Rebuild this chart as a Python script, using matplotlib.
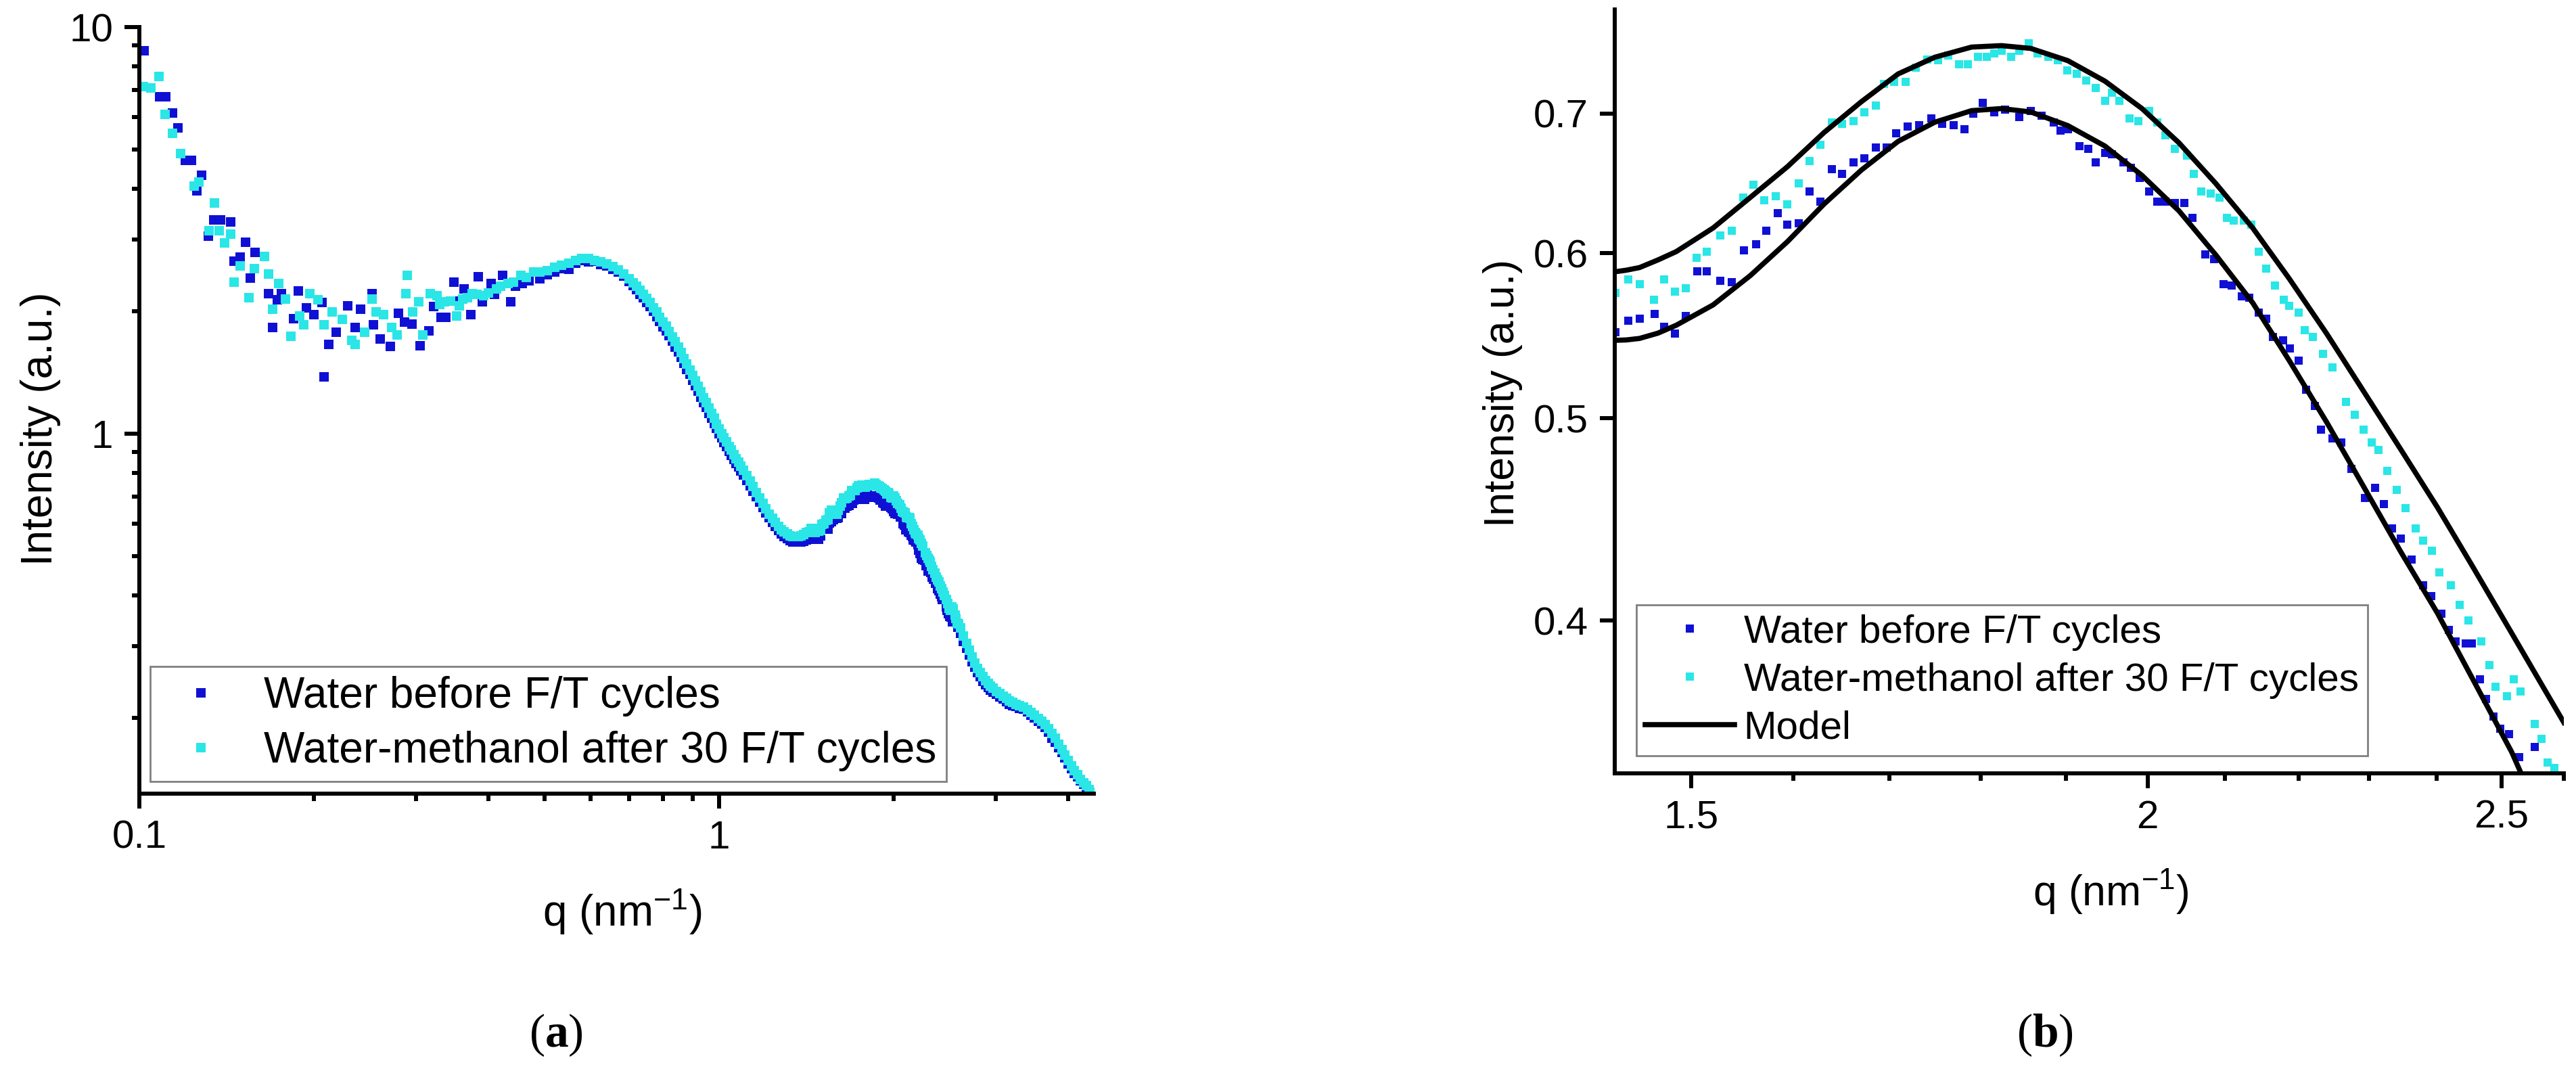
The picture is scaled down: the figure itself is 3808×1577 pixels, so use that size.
import numpy as np
import matplotlib
matplotlib.use("Agg")
from matplotlib import pyplot as plt
from matplotlib.ticker import FixedLocator, FixedFormatter, LogLocator, NullFormatter, NullLocator

plt.rcParams['font.family'] = ['Liberation Sans', 'DejaVu Sans']
plt.rcParams['mathtext.fontset'] = 'custom'
plt.rcParams['mathtext.rm'] = 'Liberation Sans'
plt.rcParams['mathtext.it'] = 'Liberation Sans:italic'
plt.rcParams['mathtext.bf'] = 'Liberation Serif:bold'

BLUE = '#1010d4'
CYAN = '#2ae6e6'

label_water = "Water before F/T cycles"
label_meth = "Water-methanol after 30 F/T cycles"

# low q, scattered part
q_low_water = [0.1020, 0.1085, 0.1111, 0.1142, 0.1166, 0.1202, 0.1231, 0.1257, 0.1282, 0.1316,
               0.1343, 0.1381, 0.1436, 0.1455, 0.1492, 0.1524, 0.1552, 0.1585, 0.1671, 0.1697,
               0.1729, 0.1759, 0.1846, 0.1880, 0.1940, 0.2000, 0.2063, 0.2084, 0.2123, 0.2183,
               0.2287, 0.2359, 0.2407, 0.2521, 0.2534, 0.2600, 0.2710, 0.2795, 0.2866, 0.2950,
               0.3049, 0.3161, 0.3220, 0.3310, 0.3380, 0.3485, 0.3550, 0.3632, 0.3727, 0.3843,
               0.3903, 0.4046, 0.4100, 0.4237, 0.4370, 0.4450, 0.4576, 0.4700]
I_low_water = [8.74, 6.75, 6.75, 6.14, 5.65, 4.70, 4.70, 3.96, 4.32, 3.06,
               3.35, 3.35, 3.31, 2.65, 2.72, 2.96, 2.41, 2.79, 2.21, 1.825,
               2.13, 2.21, 1.92, 2.24, 2.04, 1.965, 2.10, 1.381, 1.66, 1.773,
               2.06, 1.825, 2.02, 2.21, 1.853, 1.709, 1.635, 1.979, 1.880, 1.86,
               1.647, 1.786, 2.05, 1.935, 1.935, 2.36, 2.12, 2.27, 1.965, 2.43,
               2.11, 2.34, 2.20, 2.45, 2.11, 2.30, 2.34, 2.38]

q_low_meth = [0.1015, 0.1047, 0.1081, 0.1108, 0.1142, 0.1178, 0.1244, 0.1266, 0.1319, 0.1346,
              0.1374, 0.1403, 0.1439, 0.1455, 0.1492, 0.1547, 0.1579, 0.1645, 0.1671, 0.1697,
              0.1741, 0.1786, 0.1824, 0.1890, 0.1919, 0.1970, 0.2032, 0.2084, 0.2149, 0.2239,
              0.2322, 0.2359, 0.2445, 0.2521, 0.2560, 0.2641, 0.2724, 0.2780, 0.2882, 0.2897,
              0.2957, 0.3034, 0.3082, 0.3178, 0.3261, 0.3300, 0.3362, 0.3440, 0.3521, 0.3560,
              0.3613, 0.3680, 0.3746, 0.3820, 0.3923, 0.4000, 0.4129, 0.4200, 0.4325, 0.4420,
              0.4551, 0.4650, 0.4795]
I_low_meth = [7.14, 7.07, 7.57, 6.09, 5.48, 4.88, 4.06, 4.15, 3.16, 3.69,
              3.16, 2.94, 3.09, 2.36, 2.58, 2.16, 2.55, 2.73, 2.47, 2.02,
              2.34, 2.14, 1.734, 1.95, 1.853, 2.21, 2.13, 1.853, 1.994, 1.907,
              1.696, 1.66, 1.773, 2.14, 1.994, 1.965, 1.825, 1.746, 2.21, 2.45,
              1.994, 2.11, 1.746, 2.21, 2.18, 2.08, 2.11, 2.12, 1.95, 2.06,
              2.14, 2.16, 2.21, 2.20, 2.18, 2.22, 2.27, 2.30, 2.34, 2.36,
              2.45, 2.42, 2.50]

# dense band between the low q part and the zoomed window
q_mid = [0.490, 0.505, 0.520, 0.535, 0.550, 0.565, 0.580, 0.595, 0.610, 0.625,
         0.640, 0.655, 0.670, 0.685, 0.700,
         0.71, 0.72, 0.73, 0.74, 0.75, 0.76, 0.77, 0.78, 0.79, 0.80,
         0.81, 0.82, 0.83, 0.84, 0.85, 0.86, 0.87, 0.88, 0.89, 0.90,
         0.91, 0.92, 0.93, 0.94, 0.95, 0.96, 0.97, 0.98, 0.99, 1.00,
         1.01, 1.02, 1.03, 1.04, 1.05, 1.06, 1.07, 1.08, 1.09, 1.10,
         1.115, 1.13, 1.145, 1.16, 1.175, 1.19, 1.205, 1.22, 1.235, 1.25,
         1.265, 1.28, 1.295, 1.31, 1.325, 1.34, 1.355, 1.37, 1.385, 1.40, 1.415]
I_mid_water = [2.40, 2.46, 2.50, 2.55, 2.54, 2.62, 2.66, 2.64, 2.65, 2.60,
               2.58, 2.54, 2.50, 2.44, 2.37,
               2.31, 2.26, 2.20, 2.16, 2.10, 2.05, 2.00, 1.94, 1.89, 1.83,
               1.79, 1.74, 1.69, 1.63, 1.59, 1.54, 1.49, 1.44, 1.40, 1.35,
               1.31, 1.27, 1.23, 1.19, 1.16, 1.12, 1.09, 1.06, 1.03, 1.00,
               0.975, 0.95, 0.93, 0.905, 0.885, 0.865, 0.845, 0.828, 0.81, 0.792,
               0.768, 0.745, 0.722, 0.70, 0.678, 0.657, 0.638, 0.620, 0.604, 0.590,
               0.577, 0.567, 0.558, 0.551, 0.546, 0.542, 0.540, 0.540, 0.541, 0.544, 0.547]
I_mid_meth = [2.50, 2.52, 2.56, 2.59, 2.62, 2.66, 2.70, 2.70, 2.67, 2.64,
              2.61, 2.57, 2.53, 2.47, 2.40,
              2.35, 2.30, 2.25, 2.20, 2.15, 2.10, 2.04, 1.99, 1.93, 1.88,
              1.835, 1.785, 1.73, 1.68, 1.632, 1.58, 1.53, 1.48, 1.435, 1.39,
              1.345, 1.305, 1.265, 1.225, 1.19, 1.155, 1.12, 1.09, 1.055, 1.025,
              1.00, 0.975, 0.955, 0.93, 0.91, 0.888, 0.868, 0.85, 0.83, 0.812,
              0.788, 0.763, 0.74, 0.716, 0.693, 0.672, 0.653, 0.634, 0.618, 0.604,
              0.591, 0.580, 0.572, 0.566, 0.561, 0.558, 0.557, 0.558, 0.561, 0.565, 0.570]

# zoomed window
q_zoom_water = [1.430, 1.442, 1.452, 1.466, 1.475, 1.485, 1.495, 1.506, 1.515, 1.528,
                1.539, 1.551, 1.563, 1.573, 1.584, 1.594, 1.605, 1.616, 1.627, 1.639,
                1.650, 1.662, 1.673, 1.685, 1.697, 1.707, 1.719, 1.732, 1.745, 1.757,
                1.770, 1.782, 1.792, 1.803, 1.816, 1.828, 1.845, 1.858, 1.871, 1.885,
                1.893, 1.902, 1.916, 1.927, 1.936, 1.947, 1.956, 1.970, 1.979, 1.990,
                2.002, 2.012, 2.023, 2.035, 2.047, 2.057, 2.074, 2.086, 2.098, 2.109,
                2.122, 2.132, 2.145, 2.155, 2.164, 2.178, 2.188, 2.200, 2.210, 2.222,
                2.231, 2.247, 2.260, 2.274, 2.294, 2.308, 2.321, 2.333, 2.346, 2.362,
                2.379, 2.392, 2.407, 2.418, 2.429, 2.444, 2.454, 2.466, 2.476, 2.487,
                2.498, 2.512, 2.528, 2.553, 2.580]
I_zoom_water = [0.550, 0.557, 0.558, 0.561, 0.553, 0.549, 0.560, 0.588, 0.588, 0.582,
                0.581, 0.602, 0.606, 0.615, 0.627, 0.619, 0.620, 0.642, 0.635, 0.658,
                0.655, 0.663, 0.666, 0.674, 0.674, 0.685, 0.690, 0.691, 0.696, 0.692,
                0.691, 0.688, 0.700, 0.708, 0.701, 0.703, 0.697, 0.702, 0.698, 0.693,
                0.687, 0.688, 0.675, 0.673, 0.663, 0.670, 0.669, 0.663, 0.659, 0.652,
                0.642, 0.635, 0.635, 0.634, 0.634, 0.624, 0.599, 0.596, 0.580, 0.579,
                0.572, 0.571, 0.562, 0.558, 0.547, 0.545, 0.540, 0.533, 0.516, 0.507,
                0.494, 0.489, 0.487, 0.473, 0.458, 0.463, 0.455, 0.443, 0.438, 0.428,
                0.416, 0.411, 0.403, 0.396, 0.391, 0.390, 0.390, 0.375, 0.367, 0.360,
                0.355, 0.353, 0.344, 0.348, 0.334]

q_zoom_meth = [1.430, 1.442, 1.452, 1.465, 1.475, 1.485, 1.495, 1.505, 1.515, 1.528,
               1.539, 1.550, 1.560, 1.571, 1.582, 1.594, 1.605, 1.616, 1.627, 1.639,
               1.650, 1.662, 1.673, 1.685, 1.694, 1.705, 1.717, 1.728, 1.741, 1.753,
               1.764, 1.776, 1.786, 1.797, 1.807, 1.816, 1.824, 1.835, 1.845, 1.856,
               1.866, 1.879, 1.890, 1.901, 1.913, 1.924, 1.936, 1.947, 1.956, 1.965,
               1.977, 1.988, 2.002, 2.012, 2.023, 2.035, 2.050, 2.059, 2.069, 2.081,
               2.093, 2.103, 2.112, 2.125, 2.135, 2.145, 2.155, 2.167, 2.179, 2.187,
               2.200, 2.208, 2.220, 2.234, 2.247, 2.266, 2.279, 2.292, 2.303, 2.313,
               2.326, 2.340, 2.353, 2.368, 2.379, 2.393, 2.404, 2.421, 2.435, 2.448,
               2.468, 2.481, 2.490, 2.508, 2.519, 2.530, 2.553, 2.564, 2.574, 2.585]
I_zoom_meth = [0.574, 0.583, 0.580, 0.570, 0.583, 0.575, 0.577, 0.597, 0.601, 0.612,
               0.615, 0.638, 0.647, 0.636, 0.639, 0.633, 0.648, 0.664, 0.676, 0.693,
               0.692, 0.694, 0.701, 0.706, 0.723, 0.725, 0.725, 0.736, 0.743, 0.742,
               0.746, 0.739, 0.739, 0.745, 0.745, 0.748, 0.750, 0.745, 0.750, 0.756,
               0.748, 0.745, 0.742, 0.734, 0.731, 0.726, 0.720, 0.710, 0.716, 0.710,
               0.696, 0.694, 0.702, 0.693, 0.683, 0.673, 0.668, 0.655, 0.642, 0.641,
               0.638, 0.624, 0.622, 0.622, 0.619, 0.601, 0.590, 0.579, 0.570, 0.566,
               0.562, 0.551, 0.547, 0.537, 0.529, 0.509, 0.502, 0.494, 0.487, 0.483,
               0.472, 0.462, 0.453, 0.443, 0.437, 0.432, 0.422, 0.416, 0.407, 0.400,
               0.391, 0.381, 0.372, 0.368, 0.375, 0.370, 0.357, 0.351, 0.342, 0.340]

# high q tail
q_high = [2.61, 2.64, 2.67, 2.70, 2.73, 2.76, 2.79, 2.82, 2.85, 2.88,
          2.91, 2.94, 2.97, 3.01, 3.05, 3.09, 3.13, 3.17, 3.21, 3.25,
          3.30, 3.35, 3.40, 3.45, 3.50, 3.55, 3.60, 3.65, 3.70, 3.75,
          3.80, 3.85, 3.90, 3.95, 4.00, 4.05, 4.10, 4.15, 4.20, 4.25,
          4.30, 4.35, 4.40]
I_high_water = [0.322, 0.308, 0.296, 0.285, 0.275, 0.266, 0.258, 0.252, 0.246, 0.241,
                0.237, 0.234, 0.231, 0.228, 0.225, 0.222, 0.219, 0.216, 0.214, 0.213,
                0.211, 0.210, 0.207, 0.203, 0.200, 0.196, 0.193, 0.189, 0.184, 0.178,
                0.174, 0.169, 0.164, 0.159, 0.154, 0.150, 0.146, 0.143, 0.140, 0.137,
                0.134, 0.132, 0.130]
I_high_meth = [0.333, 0.318, 0.305, 0.293, 0.282, 0.272, 0.264, 0.258, 0.252, 0.247,
               0.243, 0.239, 0.236, 0.232, 0.229, 0.226, 0.223, 0.220, 0.218, 0.216,
               0.214, 0.212, 0.209, 0.206, 0.203, 0.199, 0.196, 0.192, 0.188, 0.183,
               0.178, 0.172, 0.167, 0.162, 0.157, 0.152, 0.148, 0.145, 0.141, 0.138,
               0.136, 0.133, 0.131]

# model curves of panel b
q_model = [1.427, 1.440, 1.452, 1.469, 1.486, 1.521, 1.557, 1.594, 1.631, 1.670,
           1.709, 1.749, 1.790, 1.824, 1.858, 1.902, 1.947, 1.993, 2.040, 2.088,
           2.137, 2.187, 2.239, 2.292, 2.346, 2.401, 2.455, 2.516, 2.560, 2.600]
I_model_meth = [0.5875, 0.5888, 0.5905, 0.5955, 0.6010, 0.6169, 0.6380, 0.6601, 0.6853, 0.7091,
                0.7311, 0.7447, 0.7531, 0.7543, 0.7520, 0.7419, 0.7253, 0.7037, 0.6776, 0.6478,
                0.6169, 0.5832, 0.5490, 0.5150, 0.4832, 0.4532, 0.4245, 0.3945, 0.3745, 0.3575]
I_model_water = [0.5449, 0.5452, 0.5461, 0.5493, 0.5541, 0.5667, 0.5853, 0.6077, 0.6333, 0.6576,
                 0.6787, 0.6932, 0.7021, 0.7037, 0.7011, 0.6906, 0.6752, 0.6537, 0.6286, 0.5987,
                 0.5680, 0.5328, 0.4979, 0.4636, 0.4316, 0.4033, 0.3750, 0.3460, 0.3230, 0.3050]

water_q = np.array(q_low_water + q_mid + q_zoom_water + q_high)
water_I = np.array(I_low_water + I_mid_water + I_zoom_water + I_high_water)
meth_q = np.array(q_low_meth + q_mid + q_zoom_meth + q_high)
meth_I = np.array(I_low_meth + I_mid_meth + I_zoom_meth + I_high_meth)


def style_axis(ax):
    for side in ('top', 'right'):
        ax.spines[side].set_visible(False)
    for side in ('left', 'bottom'):
        ax.spines[side].set_linewidth(4.3)
    ax.tick_params(which='major', direction='out', length=16, width=4.3,
                   labelsize=42, pad=12)
    ax.tick_params(which='minor', direction='out', length=8, width=4.3)


fig = plt.figure(figsize=(38.08, 15.77), dpi=100)
ax_a = fig.add_axes([0.05410, 0.25618, 0.37054, 0.71845])
ax_b = fig.add_axes([0.62684, 0.27521, 0.36844, 0.71592])

# (a) full curve
ax_a.plot(water_q, water_I, ls='none', marker='s', ms=9.5, mew=0, color=BLUE, label=label_water)
ax_a.plot(meth_q, meth_I, ls='none', marker='s', ms=9.5, mew=0, color=CYAN, label=label_meth)
ax_a.set_xscale('log')
ax_a.set_yscale('log')
ax_a.set_xlim(0.1, 4.43)
ax_a.set_ylim(0.13, 10)
ax_a.xaxis.set_major_locator(FixedLocator([0.1, 1]))
ax_a.xaxis.set_major_formatter(FixedFormatter(['0.1', '1']))
ax_a.xaxis.set_minor_locator(LogLocator(base=10, subs=np.arange(2, 10), numticks=50))
ax_a.xaxis.set_minor_formatter(NullFormatter())
ax_a.yaxis.set_major_locator(FixedLocator([1, 10]))
ax_a.yaxis.set_major_formatter(FixedFormatter(['1', '10']))
ax_a.yaxis.set_minor_locator(LogLocator(base=10, subs=np.arange(2, 10), numticks=50))
ax_a.yaxis.set_minor_formatter(NullFormatter())
style_axis(ax_a)
ax_a.set_xlabel('q (nm$^{-1}$)', fontsize=46)
ax_a.xaxis.label.set_va('center')
ax_a.xaxis.set_label_coords(0.506, -0.1545)
ax_a.set_ylabel('Intensity (a.u.)', fontsize=46)
ax_a.yaxis.label.set_va('center')
ax_a.yaxis.set_label_coords(-0.1035, 0.4757)
leg_a = ax_a.legend(loc='lower left', bbox_to_anchor=(0.0113, 0.0159), borderaxespad=0,
                    prop={'size': 46}, handlelength=1.9, handletextpad=0.5,
                    borderpad=0.23, labelspacing=0.33, fancybox=False,
                    edgecolor='#808080', framealpha=1, numpoints=1)
leg_a.get_frame().set_linewidth(2)

# (b) zoom on the second maximum with model
ax_b.plot(water_q, water_I, ls='none', marker='s', ms=8.8, mew=0, color=BLUE, label=label_water)
ax_b.plot(meth_q, meth_I, ls='none', marker='s', ms=8.8, mew=0, color=CYAN, label=label_meth)
ax_b.plot(q_model, I_model_meth, color='black', lw=5.5, label='Model')
ax_b.plot(q_model, I_model_water, color='black', lw=5.5, label='_nolegend_')
ax_b.set_xscale('log')
ax_b.set_yscale('log')
ax_b.set_xlim(1.4295, 2.60)
ax_b.set_ylim(0.338, 0.785)
ax_b.xaxis.set_major_locator(FixedLocator([1.5, 2, 2.5]))
ax_b.xaxis.set_major_formatter(FixedFormatter(['1.5', '2', '2.5']))
ax_b.xaxis.set_minor_locator(FixedLocator([1.6, 1.7, 1.8, 1.9, 2.1, 2.2, 2.3, 2.4, 2.6]))
ax_b.xaxis.set_minor_formatter(NullFormatter())
ax_b.yaxis.set_major_locator(FixedLocator([0.4, 0.5, 0.6, 0.7]))
ax_b.yaxis.set_major_formatter(FixedFormatter(['0.4', '0.5', '0.6', '0.7']))
ax_b.yaxis.set_minor_locator(NullLocator())
style_axis(ax_b)
ax_b.set_xlabel('q (nm$^{-1}$)', fontsize=45)
ax_b.xaxis.label.set_va('center')
ax_b.xaxis.set_label_coords(0.523, -0.155)
ax_b.set_ylabel('Intensity (a.u.)', fontsize=45)
ax_b.yaxis.label.set_va('center')
ax_b.yaxis.set_label_coords(-0.1183, 0.4978)
leg_b = ax_b.legend(loc='lower left', bbox_to_anchor=(0.0228, 0.023), borderaxespad=0,
                    prop={'size': 42}, handlelength=2.25, handletextpad=0.24,
                    borderpad=0.23, labelspacing=0.29, fancybox=False,
                    edgecolor='#808080', framealpha=1, numpoints=1)
leg_b.get_frame().set_linewidth(2)

fig.text(0.2159, 0.0298, r'($\mathbf{a}$)', family='Liberation Serif', fontsize=50,
         ha='center', va='center')
fig.text(0.7939, 0.0298, r'($\mathbf{b}$)', family='Liberation Serif', fontsize=50,
         ha='center', va='center')

fig.savefig('out.png', dpi=100)
